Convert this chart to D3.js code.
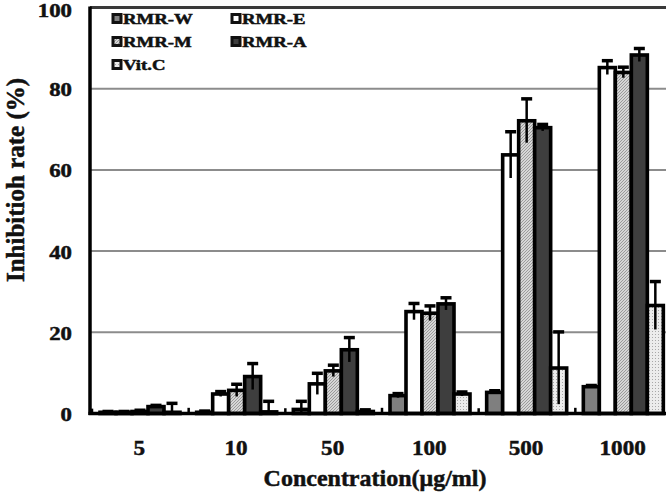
<!DOCTYPE html>
<html>
<head>
<meta charset="utf-8">
<script src="https://cdn.jsdelivr.net/npm/d3@7"></script>
<style>
  body { margin: 0; background: #fff; }
  text { font-family: "Liberation Serif", "Times New Roman", serif; font-weight: bold; fill: #111; stroke: #111; stroke-width: 0.5px; }
</style>
</head>
<body>
<div id="chart"></div>
<script>
const categories = ["5", "10", "50", "100", "500", "1000"];
const seriesNames = ["RMR-W", "RMR-E", "RMR-M", "RMR-A", "Vit.C"];

// mean inhibition (%) per series
const rmrW = [0.3, 0.3, 1.0, 4.4, 5.2, 6.6];
const rmrE = [0.3, 4.8, 7.3, 25.1, 63.7, 85.2];
const rmrM = [0.5, 5.7, 10.5, 24.7, 72.1, 84.0];
const rmrA = [1.7, 9.1, 15.7, 27.0, 70.4, 88.3];
const vitC = [0.3, 0.4, 0.5, 4.8, 11.2, 26.6];

// error bars
const errW = [0.2, 0.3, 2.0, 0.5, 0.4, 0.3];
const errE = [0.2, 0.6, 2.6, 2.0, 5.7, 1.7];
const errM = [0.3, 1.5, 1.4, 1.8, 5.4, 1.3];
const errA = [0.3, 3.2, 3.0, 1.5, 0.8, 1.6];
const errV = [2.2, 2.6, 0.4, 0.5, 8.9, 5.9];
// stray error ticks of an empty (zero) series left of each group
const errBlank = [1.2, 1.4, 1.3, 1.4, 1.3, 1.4];

const yTicks = [0, 20, 40, 60, 80, 100];

const width = 668, height = 493;
const svg = d3.select("#chart").append("svg")
  .attr("width", width).attr("height", height);

const defs = svg.append("defs");
const hatch = defs.append("pattern").attr("id", "hatch")
  .attr("patternUnits", "userSpaceOnUse").attr("width", 3).attr("height", 3);
hatch.append("rect").attr("width", 3).attr("height", 3).attr("fill", "#d6d6d6");
hatch.append("path").attr("d", "M0,3 L3,0").attr("stroke", "#8a8a8a").attr("stroke-width", 0.8);
const dots = defs.append("pattern").attr("id", "dots")
  .attr("patternUnits", "userSpaceOnUse").attr("width", 3).attr("height", 3);
dots.append("rect").attr("width", 3).attr("height", 3).attr("fill", "#ececec");
dots.append("rect").attr("x", 1).attr("y", 1).attr("width", 1).attr("height", 1).attr("fill", "#a8a8a8");

const fills = {
  "RMR-W": "#7f7f7f",
  "RMR-E": "#ffffff",
  "RMR-M": "url(#hatch)",
  "RMR-A": "#3e3e3e",
  "Vit.C": "url(#dots)"
};

const plotLeft = 90, plotRight = 666, plotTop = 7.5, plotBottom = 413.5;

const y = d3.scaleLinear().domain([0, 100]).range([plotBottom, plotTop]);
const x = d3.scaleBand().domain(categories).range([91, 671]);
const slots = ["blank"].concat(seriesNames);
const x1 = d3.scaleBand().domain(slots).range([-7, -7 + 16 * slots.length]);

const table = [
  { name: "RMR-W", vals: rmrW, errs: errW },
  { name: "RMR-E", vals: rmrE, errs: errE },
  { name: "RMR-M", vals: rmrM, errs: errM },
  { name: "RMR-A", vals: rmrA, errs: errA },
  { name: "Vit.C", vals: vitC, errs: errV }
];

// gridlines
svg.append("g").selectAll("line")
  .data(yTicks.filter(d => d > 0 && d < 100))
  .join("line")
  .attr("x1", plotLeft).attr("x2", plotRight)
  .attr("y1", d => y(d)).attr("y2", d => y(d))
  .attr("stroke", "#8c8c8c").attr("stroke-width", 2);
svg.append("line")
  .attr("x1", plotLeft).attr("x2", plotRight)
  .attr("y1", y(100)).attr("y2", y(100))
  .attr("stroke", "#3a3a3a").attr("stroke-width", 3);

// bars
const bars = [];
table.forEach(s => s.vals.forEach((v, i) => bars.push({ s: s.name, c: categories[i], v, e: s.errs[i] })));

svg.append("g").selectAll("rect")
  .data(bars)
  .join("rect")
  .attr("x", d => x(d.c) + x1(d.s))
  .attr("y", d => y(d.v))
  .attr("width", x1.bandwidth())
  .attr("height", d => y(0) - y(d.v))
  .attr("fill", d => fills[d.s])
  .attr("stroke", "#000").attr("stroke-width", 3.6);

// error bars
const errs = bars.map(d => ({ c: d.c, s: d.s, lo: Math.max(0, d.v - d.e), hi: d.v + d.e, cap: 11 }))
  .concat(categories.map((c, i) => ({ c, s: "blank", lo: 0, hi: errBlank[i], cap: 0 })));
const eg = svg.append("g").selectAll("g").data(errs).join("g")
  .attr("transform", d => `translate(${x(d.c) + x1(d.s) + x1.bandwidth() / 2},0)`);
eg.append("line").attr("y1", d => y(d.lo)).attr("y2", d => y(d.hi))
  .attr("stroke", "#000").attr("stroke-width", 2.5);
eg.append("line").attr("x1", d => -d.cap / 2).attr("x2", d => d.cap / 2)
  .attr("y1", d => y(d.hi)).attr("y2", d => y(d.hi))
  .attr("stroke", "#000").attr("stroke-width", 3.5);

// axes lines
svg.append("line").attr("x1", plotLeft).attr("x2", plotLeft)
  .attr("y1", plotTop - 1).attr("y2", plotBottom + 1.5)
  .attr("stroke", "#000").attr("stroke-width", 3.5);
svg.append("line").attr("x1", plotLeft - 1.5).attr("x2", plotRight)
  .attr("y1", plotBottom).attr("y2", plotBottom)
  .attr("stroke", "#000").attr("stroke-width", 3.5);

function stext(parent, px, py, str, size, sx, anchor) {
  return parent.append("text")
    .attr("transform", `translate(${px},${py}) scale(${sx},1)`)
    .attr("text-anchor", anchor)
    .style("font-size", size + "px")
    .text(str);
}

// y tick labels (top one nudged to stay inside the frame)
yTicks.forEach(t => stext(svg, 72, Math.max(17, y(t) + 7.5), String(t), 19, 1.2, "end"));
// x tick labels
categories.forEach(c => stext(svg, x(c) + x.bandwidth() / 2, 455, c, 21, 1.1, "middle"));

// axis titles
svg.append("text")
  .attr("transform", `translate(24,180) rotate(-90)`)
  .attr("text-anchor", "middle")
  .style("font-size", "25px")
  .text("Inhibitioh rate (%)");
svg.append("text")
  .attr("x", 375).attr("y", 486)
  .attr("text-anchor", "middle")
  .style("font-size", "24px")
  .text("Concentration(μg/ml)");

// legend
const legendPos = [[113, 19], [232, 19], [113, 42], [232, 42], [113, 65]];
const legendOrder = ["RMR-W", "RMR-E", "RMR-M", "RMR-A", "Vit.C"];
legendOrder.forEach((name, i) => {
  const [lx, ly] = legendPos[i];
  svg.append("rect").attr("x", lx).attr("y", ly - 4.5)
    .attr("width", 8).attr("height", 8)
    .attr("fill", fills[name]).attr("stroke", "#111").attr("stroke-width", 3);
  stext(svg, lx + 10, ly + 5, name, 15, 1.25, "start");
});
</script>
</body>
</html>
